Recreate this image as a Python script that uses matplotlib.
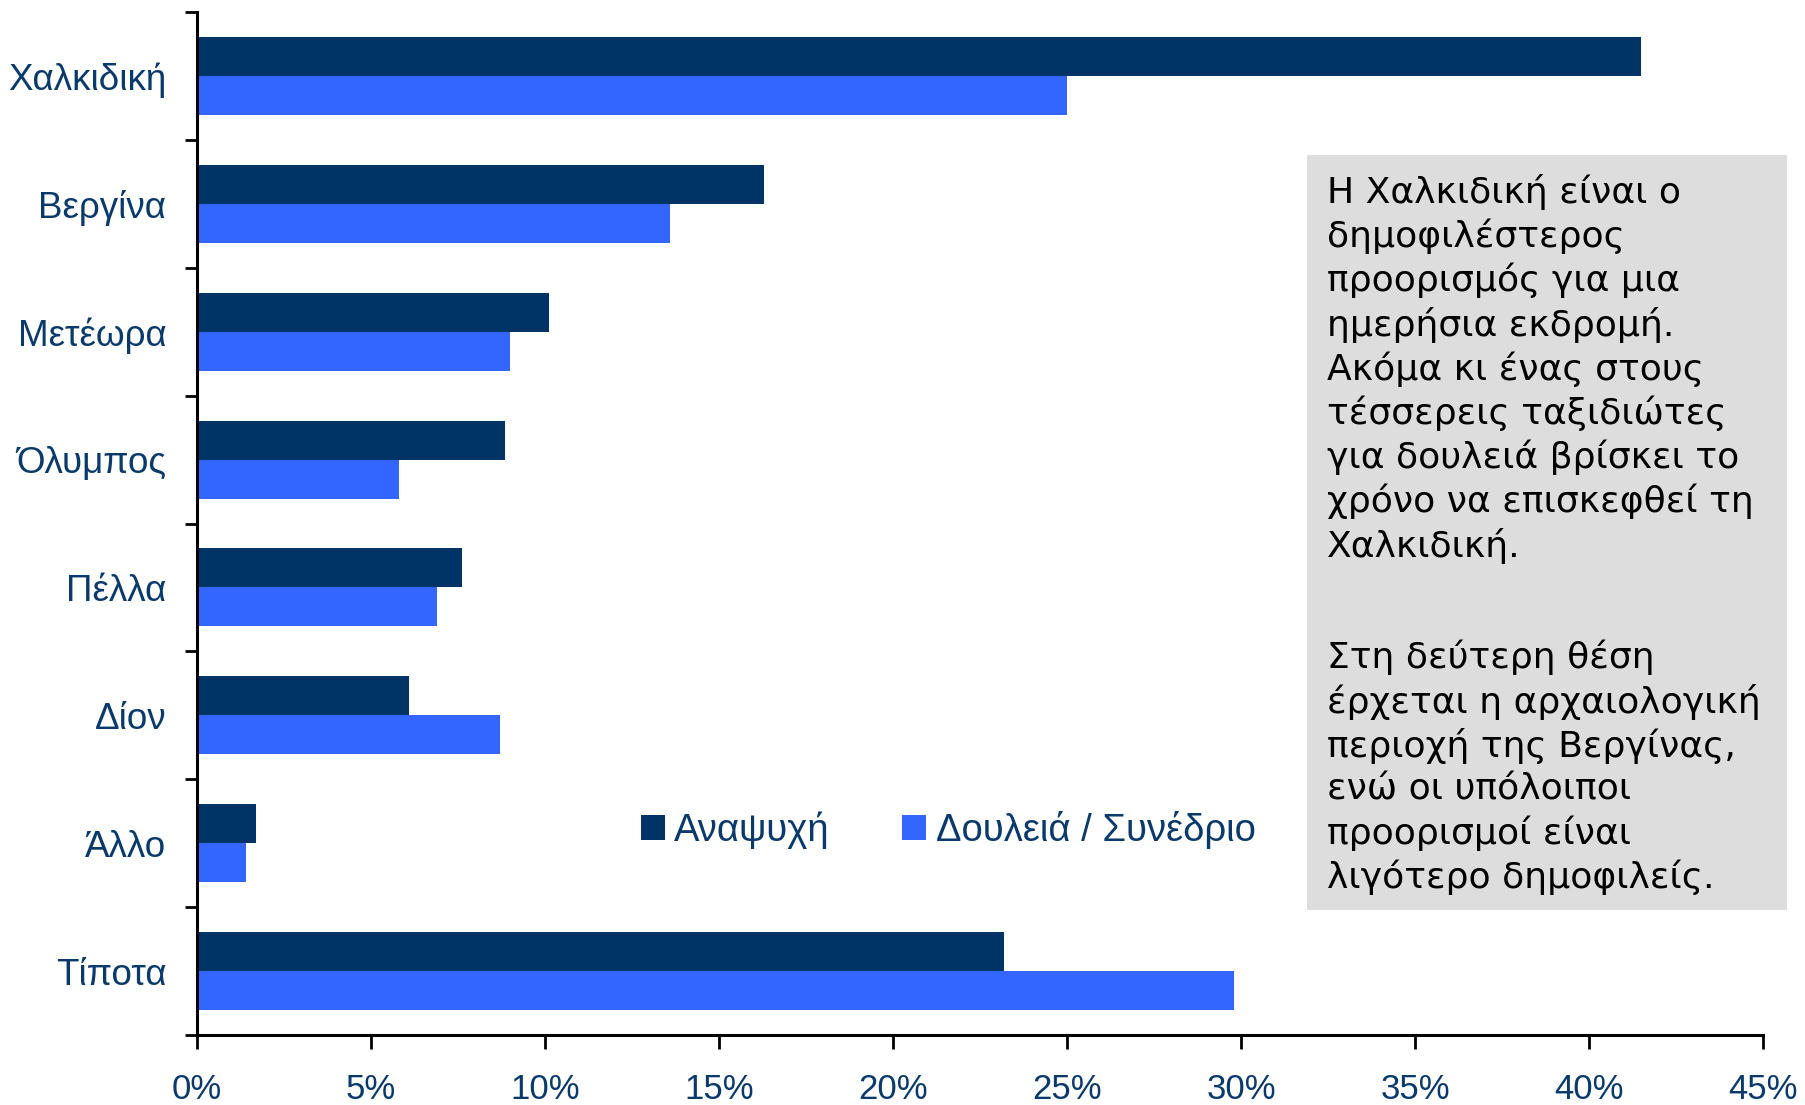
import numpy as np
import matplotlib.pyplot as plt
from matplotlib.patches import Rectangle
from matplotlib.ticker import FixedLocator, PercentFormatter

plt.rcParams['font.family'] = ['Liberation Sans', 'DejaVu Sans']

places = ["Χαλκιδική", "Βεργίνα", "Μετέωρα", "Όλυμπος", "Πέλλα", "Δίον", "Άλλο", "Τίποτα"]
leisure = [41.5, 16.3, 10.1, 8.85, 7.6, 6.1, 1.7, 23.2]
business = [25.0, 13.6, 9.0, 5.8, 6.9, 8.7, 1.4, 29.8]
series_names = ["Αναψυχή", "Δουλειά / Συνέδριο"]

note_1 = ("Η Χαλκιδική είναι ο\n"
          "δημοφιλέστερος\n"
          "προορισμός για μια\n"
          "ημερήσια εκδρομή.\n"
          "Ακόμα κι ένας στους\n"
          "τέσσερεις ταξιδιώτες\n"
          "για δουλειά βρίσκει το\n"
          "χρόνο να επισκεφθεί τη\n"
          "Χαλκιδική.")
note_2 = ("Στη δεύτερη θέση\n"
          "έρχεται η αρχαιολογική\n"
          "περιοχή της Βεργίνας,\n"
          "ενώ οι υπόλοιποι\n"
          "προορισμοί είναι\n"
          "λιγότερο δημοφιλείς.")

dark = "#003366"
light = "#3366FF"
label_col = "#0A3A6B"

fig = plt.figure(figsize=(18.06, 11.05), dpi=100)
ax = fig.add_axes([0.1091, 0.0633, 0.8671, 0.9258])

y = np.arange(len(places))[::-1]
h = 0.305
ax.barh(y + h / 2, leisure, height=h, color=dark, label=series_names[0])
ax.barh(y - h / 2, business, height=h, color=light, label=series_names[1])

ax.set_xlim(0, 45)
ax.set_ylim(-0.5, len(places) - 0.5)
ax.set_xticks(np.arange(0, 46, 5))
ax.xaxis.set_major_formatter(PercentFormatter(decimals=0))
ax.set_yticks(y)
ax.set_yticklabels(places)
ax.yaxis.set_minor_locator(FixedLocator(np.arange(-0.5, len(places), 1)))

for s in ["top", "right"]:
    ax.spines[s].set_visible(False)
for s in ["left", "bottom"]:
    ax.spines[s].set_linewidth(2.2)

ax.tick_params(axis="y", which="major", length=0, pad=22, labelsize=26.5, labelcolor=label_col)
ax.tick_params(axis="y", which="minor", length=9, width=2)
ax.tick_params(axis="x", length=10, width=2, pad=17, labelsize=25, labelcolor=label_col)

fig.legend(loc="center", bbox_to_anchor=(0.525, 0.249), ncol=2, frameon=False,
           fontsize=27.5, handlelength=0.62, handleheight=0.62, handletextpad=0.25,
           columnspacing=1.9, labelcolor=label_col)

# grey note box on the right
fig.patches.append(Rectangle((0.7237, 0.1765), 0.2658, 0.6832, transform=fig.transFigure,
                             facecolor="#DDDDDD", edgecolor="none", zorder=0))
fig.text(0.7348, 0.8425, note_1, family="DejaVu Sans", fontsize=26, color="black",
         va="top", ha="left", linespacing=1.30)
fig.text(0.7348, 0.4213, note_2, family="DejaVu Sans", fontsize=26, color="black",
         va="top", ha="left", linespacing=1.30)

fig.savefig("out.png", dpi=100)
